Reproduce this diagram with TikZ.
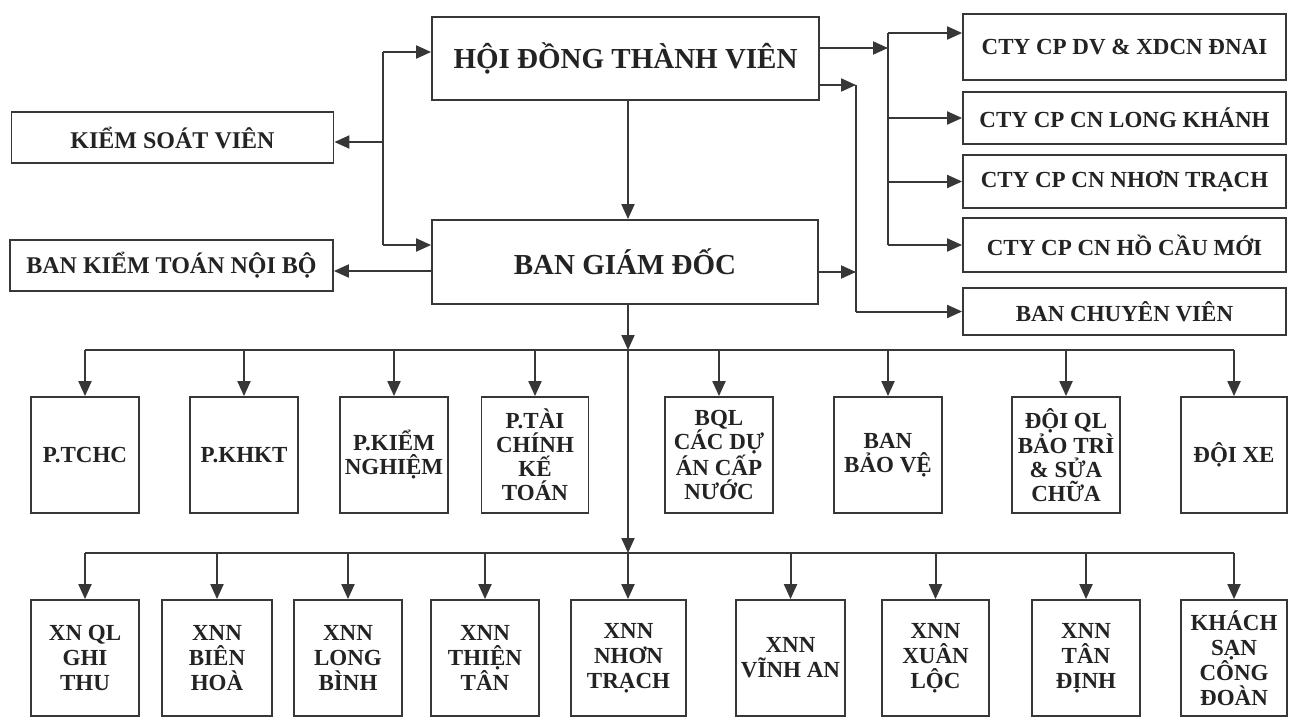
\documentclass[tikz,border=0pt]{standalone}
\usepackage{fontspec}
\setmainfont{Liberation Serif}
\usepackage{tikz}
\usetikzlibrary{arrows.meta, positioning, calc}
\definecolor{mydark}{RGB}{35,35,35}
\definecolor{myline}{RGB}{55,55,55}
\tikzset{
  box/.style={rectangle, draw=myline, line width=1.8pt, inner sep=0pt,
    align=center, text=mydark},
  bigbox/.style={box, minimum width=386pt, minimum height=84pt,
    font=\fontsize{29}{29}\selectfont\bfseries},
  sidebox/.style={box, minimum width=322pt, minimum height=51pt,
    font=\fontsize{24}{24}\selectfont\bfseries},
  ctybox/.style={box, minimum width=323pt,
    font=\fontsize{23}{23}\selectfont\bfseries},
  deptbox/.style={box, minimum width=108pt, minimum height=116pt,
    font=\fontsize{23}{24}\selectfont\bfseries},
  unitbox/.style={box, minimum width=108pt, minimum height=116pt,
    font=\fontsize{23}{25}\selectfont\bfseries},
  arrow/.style={-{Triangle[length=15pt,width=13pt]}, line width=2pt, color=myline},
  wire/.style={line width=2pt, color=myline}
}

\begin{document}
\begin{tikzpicture}[x=1pt, y=-1pt]
  \useasboundingbox (0,0) rectangle (1297,718);

  % Board and directors
  \node[bigbox, minimum width=387pt, minimum height=83pt] (hdtv) at (625.5,58.5) {HỘI ĐỒNG THÀNH VIÊN};
  \node[bigbox] (bgd) at (625,262) {BAN GIÁM ĐỐC};
  \node[sidebox] (ksv) at (172.5,137.5) {KIỂM SOÁT VIÊN};
  \node[sidebox, minimum width=323pt] (bktnb) at (171.5,265.5) {BAN KIỂM TOÁN NỘI BỘ};

  % Member companies
  \node[ctybox, minimum height=66pt] (cty1) at (1124.5,47) {CTY CP DV \& XDCN ĐNAI};
  \node[ctybox, minimum height=52pt] (cty2) at (1124.5,118) {CTY CP CN LONG KHÁNH};
  \node[ctybox, minimum height=53pt] (cty3) at (1124.5,181.5) {CTY CP CN NHƠN TRẠCH};
  \node[ctybox, minimum height=54pt] (cty4) at (1124.5,245) {CTY CP CN HỒ CẦU MỚI};
  \node[ctybox, minimum height=47pt] (bcv) at (1124.5,311.5) {BAN CHUYÊN VIÊN};

  % Departments
  \node[deptbox] (ptchc) at (85,455) {P.TCHC};
  \node[deptbox] (pkhkt) at (244,455) {P.KHKT};
  \node[deptbox] (pkn) at (394,455) {P.KIỂM\\NGHIỆM};
  \node[deptbox, minimum width=107pt] (ptckt) at (535,455) {P.TÀI\\CHÍNH\\KẾ\\TOÁN};
  \node[deptbox] (bql) at (719,455) {BQL\\CÁC DỰ\\ÁN CẤP\\NƯỚC};
  \node[deptbox] (bbv) at (888,455) {BAN\\BẢO VỆ};
  \node[deptbox] (dql) at (1066,455) {ĐỘI QL\\BẢO TRÌ\\\& SỬA\\CHỮA};
  \node[deptbox, minimum width=106pt] (dxe) at (1234,455) {ĐỘI XE};

  % Water plants
  \node[unitbox] (xnql) at (85,658) {XN QL\\GHI\\THU};
  \node[unitbox, minimum width=110pt] (xnnbh) at (217,658) {XNN\\BIÊN\\HOÀ};
  \node[unitbox] (xnnlb) at (348,658) {XNN\\LONG\\BÌNH};
  \node[unitbox] (xnntt) at (485,658) {XNN\\THIỆN\\TÂN};
  \node[unitbox, minimum width=115pt] (xnnnt) at (628.5,658) {XNN\\NHƠN\\TRẠCH};
  \node[unitbox, minimum width=109pt] (xnnva) at (790.5,658) {XNN\\VĨNH AN};
  \node[unitbox, minimum width=107pt] (xnnxl) at (935.5,658) {XNN\\XUÂN\\LỘC};
  \node[unitbox] (xnntd) at (1086,658) {XNN\\TÂN\\ĐỊNH};
  \node[unitbox, minimum width=106pt] (kscd) at (1234,658) {KHÁCH\\SẠN\\CÔNG\\ĐOÀN};

  % Left bracket
  \coordinate (ktop) at (383,52);
  \coordinate (kmid) at (383,142);
  \coordinate (kbot) at (383,245);
  \draw[wire] (ktop) -- (kbot);
  \draw[arrow] (ktop) -- (ktop -| hdtv.west);
  \draw[arrow] (kbot) -- (kbot -| bgd.west);
  \draw[arrow] (kmid) -- (kmid -| ksv.east);
  \draw[arrow] ([yshift=-9pt]bgd.west) -- ([yshift=-9pt]bgd.west -| bktnb.east);

  % Right branches
  \coordinate (rtop) at (888,33);
  \coordinate (rbot) at (888,245);
  \coordinate (stop) at (856,85);
  \coordinate (sbot) at (856,311.5);
  \draw[arrow] ([yshift=10.5pt]hdtv.east) -- ([yshift=10.5pt]hdtv.east -| rtop);
  \draw[wire] (rtop) -- (rbot);
  \draw[arrow] (rtop) -- (rtop -| cty1.west);
  \draw[arrow] (rtop |- cty2) -- (cty2.west);
  \draw[arrow] (rtop |- cty3) -- (cty3.west);
  \draw[arrow] (rbot) -- (cty4.west);
  \draw[arrow] (hdtv.east |- stop) -- (stop);
  \draw[wire] (stop) -- (sbot);
  \draw[arrow] (sbot) -- (bcv.west);
  \draw[arrow] ([yshift=-10pt]bgd.east) -- ([yshift=-10pt]bgd.east -| stop);

  % Trunk and buses
  \coordinate (bus1) at (628,350);
  \coordinate (bus2) at (628,553);
  \draw[arrow] (hdtv.south -| bus1) -- (bgd.north -| bus1);
  \draw[arrow] (bgd.south -| bus1) -- (bus1);
  \draw[wire] (bus1 -| ptchc) -- (bus1 -| dxe);
  \draw[arrow] (bus1 -| ptchc) -- (ptchc.north);
  \draw[arrow] (bus1 -| pkhkt) -- (pkhkt.north);
  \draw[arrow] (bus1 -| pkn) -- (pkn.north);
  \draw[arrow] (bus1 -| ptckt) -- (ptckt.north);
  \draw[arrow] (bus1 -| bql) -- (bql.north);
  \draw[arrow] (bus1 -| bbv) -- (bbv.north);
  \draw[arrow] (bus1 -| dql) -- (dql.north);
  \draw[arrow] (bus1 -| dxe) -- (dxe.north);
  \draw[arrow] (bus1) -- (bus2);
  \draw[wire] (bus2 -| xnql) -- (bus2 -| kscd);
  \draw[arrow] (bus2 -| xnql) -- (xnql.north);
  \draw[arrow] (bus2 -| xnnbh) -- (xnnbh.north);
  \draw[arrow] (bus2 -| xnnlb) -- (xnnlb.north);
  \draw[arrow] (bus2 -| xnntt) -- (xnntt.north);
  \draw[arrow] (bus2) -- (bus2 |- xnnnt.north);
  \draw[arrow] (bus2 -| xnnva) -- (xnnva.north);
  \draw[arrow] (bus2 -| xnnxl) -- (xnnxl.north);
  \draw[arrow] (bus2 -| xnntd) -- (xnntd.north);
  \draw[arrow] (bus2 -| kscd) -- (kscd.north);
\end{tikzpicture}
\end{document}
